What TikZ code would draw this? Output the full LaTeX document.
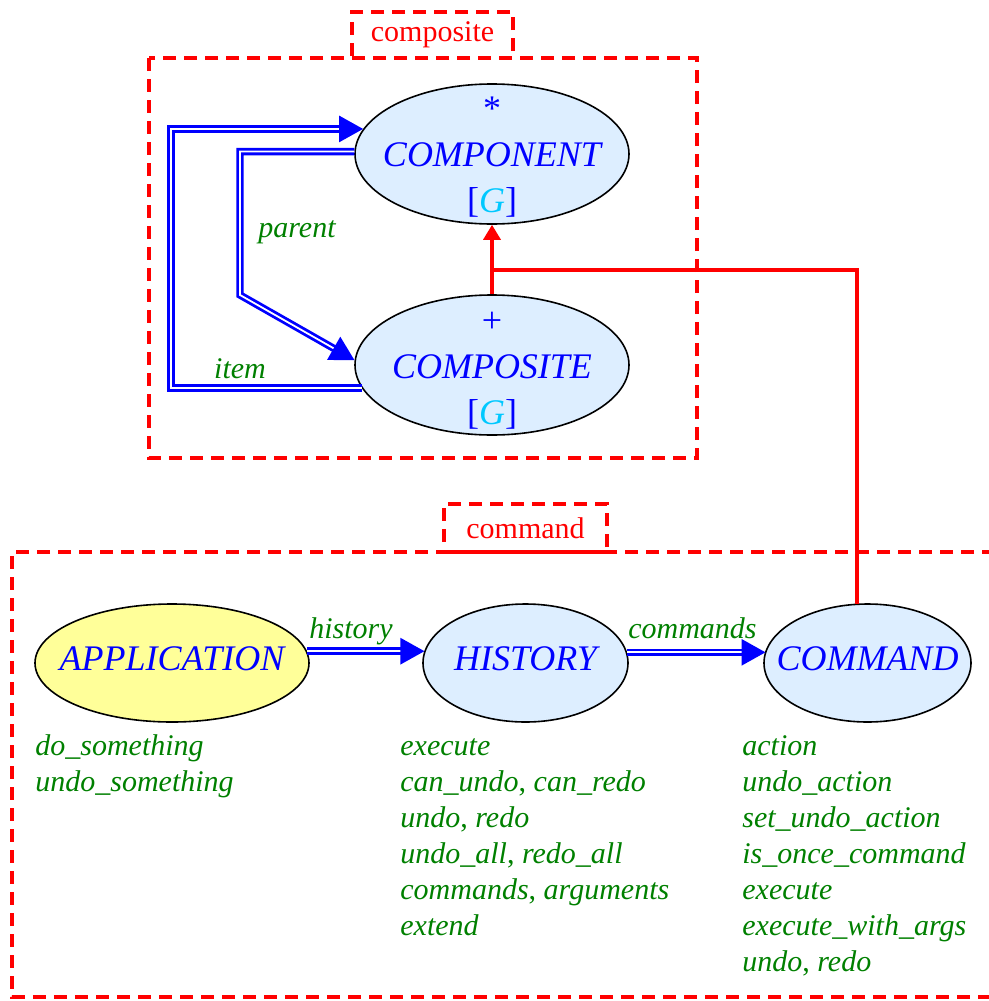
\documentclass[tikz,border=0pt]{standalone}
\usepackage{fontspec}
\setmainfont{Liberation Serif}
\usepackage{tikz}
\usetikzlibrary{shapes.geometric,arrows.meta}
\definecolor{clsblue}{RGB}{221,238,255}
\definecolor{clsyellow}{RGB}{255,255,153}
\definecolor{featgreen}{RGB}{0,128,0}
\definecolor{gcyan}{RGB}{0,200,255}
\newcommand{\genG}{{\upshape[}\textcolor{gcyan}{G}{\upshape]}}
\tikzstyle{cls}=[shape=ellipse,draw=black,line width=0.8pt,fill=clsblue,inner sep=0pt]
\tikzstyle{clsname}=[text=blue,font=\fontsize{18}{23}\selectfont\itshape,align=center]
\tikzstyle{feature}=[text=featgreen,font=\fontsize{15}{18}\selectfont\itshape,align=left,anchor=north west,inner sep=0pt]
\tikzstyle{edgelabel}=[text=featgreen,font=\fontsize{15}{18}\selectfont\itshape,inner sep=0pt,anchor=base]
\tikzstyle{client}=[draw=blue,line width=1.4pt,double=white,double distance=0.9pt,-{Triangle[length=12pt,width=13pt]}]
\tikzstyle{heir}=[draw=red,line width=1.7pt,-{Triangle[length=7.5pt,width=8.5pt]}]
\tikzstyle{heirline}=[draw=red,line width=1.6pt]
\tikzstyle{cluster}=[draw=red,line width=2pt,dash pattern=on 6.5pt off 4pt]
\tikzstyle{clusterbox}=[cluster,text=red,font=\fontsize{15}{18}\selectfont,inner sep=0pt]

\begin{document}
\begin{tikzpicture}[x=0.5pt,y=-0.5pt]
  \useasboundingbox (0,0) rectangle (989,1001);
  % cluster composite
  \draw[cluster] (149,58) rectangle (697,458);
  \node[clusterbox,minimum width=80.5pt,minimum height=23pt] (compositetag) at (432.5,35) {composite};
  \node[cls,minimum width=137pt,minimum height=70pt,
        label={[clsname,yshift=-1.5pt]center:{{\upshape *}\\COMPONENT\\\genG}}] (component) at (492,154) {};
  \node[cls,minimum width=137pt,minimum height=70pt,
        label={[clsname,yshift=-3pt]center:{{\upshape +}\\COMPOSITE\\\genG}}] (composite) at (492,365) {};
  \coordinate (itemturn) at (171,260);
  \coordinate (parentturn) at (240,295);
  \coordinate (heirjoin) at (492,270);
  \draw[client] (composite.190) -| (itemturn) |- (component.169);
  \draw[client] (component.179) -| (parentturn) -- (composite.178);
  \node[edgelabel] (itemlabel) at (240,378) {item};
  \node[edgelabel] (parentlabel) at (297,237) {parent};
  \draw[heir] (composite.north) -- (component.south);
  % cluster command
  \draw[cluster] (995,552) -| (12,997) -- (995,997);
  \node[clusterbox,minimum width=81.5pt,minimum height=24pt] (commandtag) at (525.5,528) {command};
  \node[cls,fill=clsyellow,minimum width=137pt,minimum height=59pt,
        label={[clsname,yshift=2pt]center:APPLICATION}] (application) at (172,663) {};
  \node[cls,minimum width=102.5pt,minimum height=59pt,
        label={[clsname,yshift=2pt]center:HISTORY}] (history) at (525.5,663) {};
  \node[cls,minimum width=103.5pt,minimum height=59pt,
        label={[clsname,yshift=2pt]center:COMMAND}] (command) at (867.5,663) {};
  \draw[client] (application.5) -- (history.173.4 |- application.5);
  \draw[client] (history.6.6) -- (command.173.4 |- history.6.6);
  \node[edgelabel] (historylabel) at (351,638) {history};
  \node[edgelabel] (commandslabel) at (692.5,638) {commands};
  \draw[heirline] (command.100) |- (heirjoin);
  % features
  \node[feature] (appfeatures) at (35,729.6) {\strut do\_something\\undo\_something};
  \node[feature] (historyfeatures) at (400,729.6) {\strut execute\\can\_undo{\upshape,} can\_redo\\undo{\upshape,} redo\\undo\_all{\upshape,} redo\_all\\commands{\upshape,} arguments\\extend};
  \node[feature] (commandfeatures) at (742,729.6) {\strut action\\undo\_action\\set\_undo\_action\\is\_once\_command\\execute\\execute\_with\_args\\undo{\upshape,} redo};
\end{tikzpicture}
\end{document}
